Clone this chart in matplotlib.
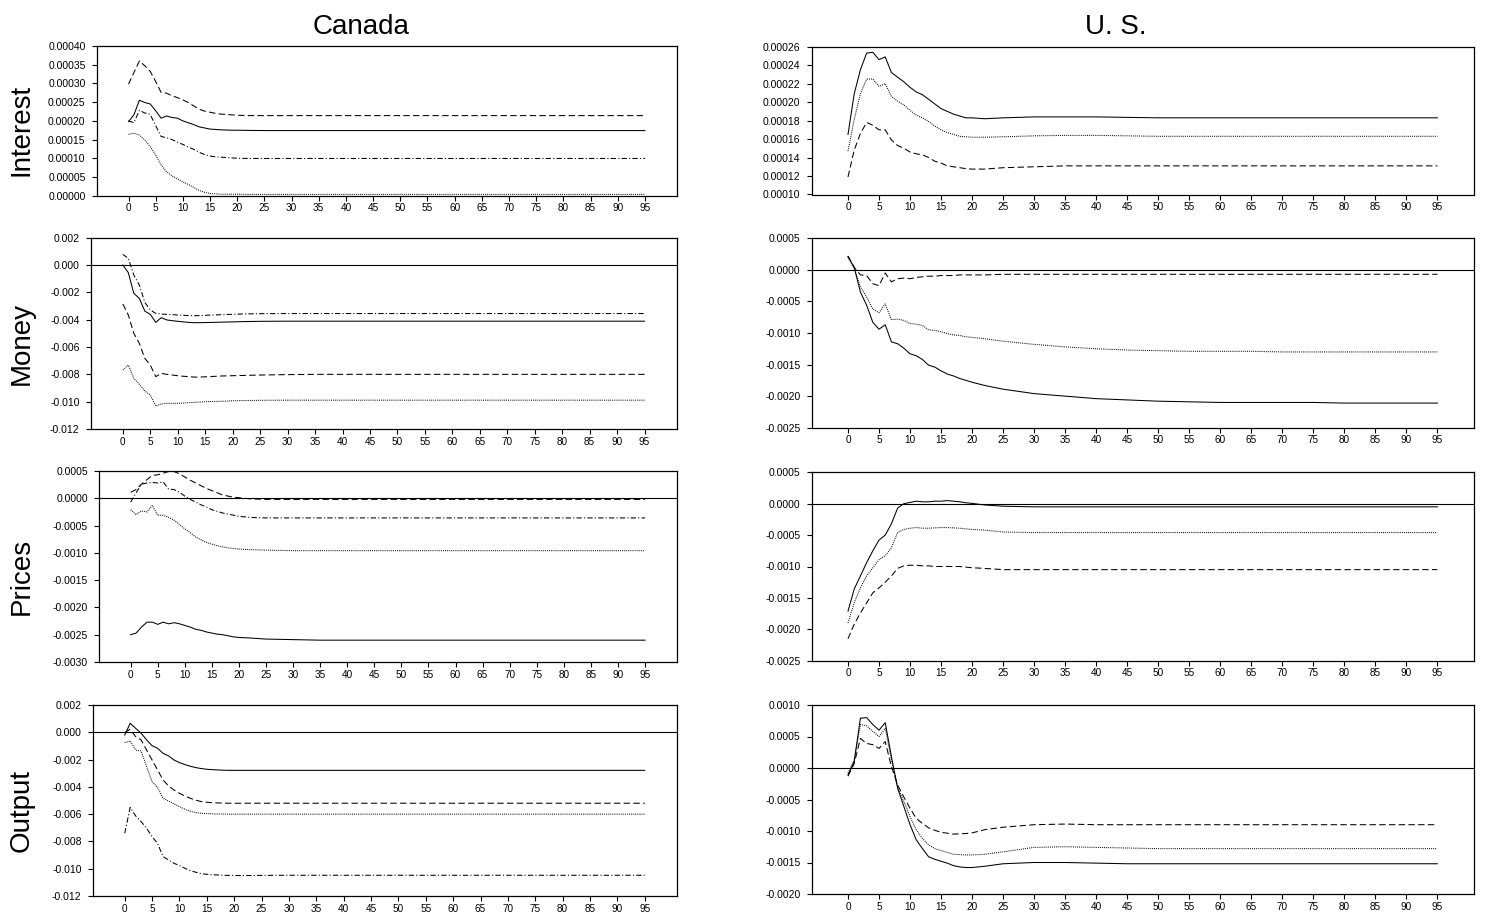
import matplotlib
matplotlib.use('Agg')
import matplotlib.pyplot as plt
from matplotlib.ticker import FixedLocator, FuncFormatter

plt.rcParams['font.family'] = ['Liberation Sans', 'DejaVu Sans']
plt.rcParams['lines.scale_dashes'] = False

W, H = 1485, 918

# horizon values at which the responses were read
X = list(range(0, 21)) + [22, 25, 30, 35, 40, 45, 50, 55, 60, 65, 70, 75, 80, 85, 90, 95]
X_TICKS = list(range(0, 100, 5))

COLUMNS = ["Canada", "U. S."]
ROWS = ["Interest", "Money", "Prices", "Output"]

# ---------------- Canada : Interest (units 1e-4) ----------------
ca_int_solid = [1.98, 2.16, 2.55, 2.49, 2.45, 2.27, 2.07, 2.13, 2.09, 2.07, 2.00, 1.95, 1.90, 1.84, 1.81, 1.78, 1.77, 1.76, 1.755, 1.75, 1.75,
                1.745, 1.74, 1.74, 1.74, 1.74, 1.74, 1.74, 1.74, 1.74, 1.74, 1.74, 1.74, 1.74, 1.74, 1.74, 1.74]
ca_int_dashed = [2.98, 3.29, 3.60, 3.47, 3.32, 3.05, 2.76, 2.74, 2.67, 2.62, 2.56, 2.49, 2.40, 2.31, 2.26, 2.23, 2.20, 2.18, 2.17, 2.16, 2.15,
                 2.14, 2.14, 2.14, 2.14, 2.14, 2.14, 2.14, 2.14, 2.14, 2.14, 2.14, 2.14, 2.14, 2.14, 2.14, 2.14]
ca_int_dashdot = [2.00, 1.95, 2.28, 2.21, 2.17, 1.87, 1.58, 1.55, 1.50, 1.43, 1.37, 1.30, 1.24, 1.16, 1.10, 1.06, 1.04, 1.03, 1.02, 1.01, 1.00,
                  0.995, 0.995, 0.995, 0.995, 0.995, 0.995, 0.995, 0.995, 0.995, 0.995, 0.995, 0.995, 0.995, 0.995, 0.995, 0.995]
ca_int_dotted = [1.64, 1.67, 1.62, 1.49, 1.31, 1.09, 0.82, 0.64, 0.53, 0.45, 0.37, 0.30, 0.22, 0.14, 0.09, 0.06, 0.05, 0.04, 0.04, 0.04, 0.04,
                 0.035, 0.035, 0.035, 0.035, 0.035, 0.035, 0.035, 0.035, 0.035, 0.035, 0.035, 0.035, 0.035, 0.035, 0.035, 0.035]

# ---------------- U.S. : Interest (units 1e-4) ----------------
us_int_solid = [1.65, 2.09, 2.35, 2.53, 2.54, 2.46, 2.49, 2.32, 2.27, 2.22, 2.16, 2.11, 2.08, 2.03, 1.98, 1.93, 1.90, 1.87, 1.85, 1.83, 1.83,
                1.82, 1.83, 1.84, 1.84, 1.84, 1.835, 1.83, 1.83, 1.83, 1.83, 1.83, 1.83, 1.83, 1.83, 1.83, 1.83]
us_int_dotted = [1.47, 1.81, 2.09, 2.25, 2.25, 2.17, 2.20, 2.06, 2.01, 1.97, 1.91, 1.86, 1.83, 1.79, 1.74, 1.70, 1.67, 1.65, 1.63, 1.625, 1.62,
                 1.62, 1.625, 1.635, 1.64, 1.64, 1.635, 1.63, 1.63, 1.63, 1.63, 1.63, 1.63, 1.63, 1.63, 1.63, 1.63]
us_int_dashed = [1.19, 1.48, 1.66, 1.78, 1.75, 1.70, 1.70, 1.59, 1.53, 1.50, 1.46, 1.44, 1.43, 1.40, 1.36, 1.34, 1.31, 1.30, 1.29, 1.28, 1.275,
                 1.275, 1.29, 1.30, 1.31, 1.31, 1.31, 1.31, 1.31, 1.31, 1.31, 1.31, 1.31, 1.31, 1.31, 1.31, 1.31]

# ---------------- Canada : Money (units 1e-3) ----------------
ca_mon_solid = [0.00, -0.56, -2.07, -2.44, -3.37, -3.61, -4.20, -3.85, -4.02, -4.07, -4.12, -4.16, -4.20, -4.22, -4.22, -4.21, -4.20, -4.19, -4.18, -4.17, -4.16,
                -4.14, -4.12, -4.11, -4.11, -4.11, -4.11, -4.11, -4.11, -4.11, -4.11, -4.11, -4.11, -4.11, -4.11, -4.11, -4.11]
ca_mon_dashdot = [0.78, 0.49, -0.73, -1.46, -2.73, -3.29, -3.54, -3.59, -3.61, -3.63, -3.66, -3.68, -3.70, -3.71, -3.70, -3.68, -3.66, -3.65, -3.63, -3.62, -3.61,
                  -3.58, -3.56, -3.55, -3.55, -3.55, -3.55, -3.55, -3.55, -3.55, -3.55, -3.55, -3.55, -3.55, -3.55, -3.55, -3.55]
ca_mon_dashed = [-2.85, -3.66, -5.00, -5.73, -6.83, -7.32, -8.17, -7.93, -8.00, -8.05, -8.10, -8.14, -8.17, -8.20, -8.20, -8.18, -8.16, -8.14, -8.12, -8.11, -8.10,
                 -8.08, -8.05, -8.02, -8.00, -8.00, -8.00, -8.00, -8.00, -8.00, -8.00, -8.00, -8.00, -8.00, -8.00, -8.00, -8.00]
ca_mon_dotted = [-7.68, -7.32, -8.29, -8.73, -9.22, -9.51, -10.32, -10.17, -10.12, -10.12, -10.12, -10.10, -10.07, -10.05, -10.03, -10.00, -9.99, -9.98, -9.97, -9.96, -9.93,
                 -9.92, -9.90, -9.89, -9.89, -9.89, -9.89, -9.89, -9.89, -9.89, -9.89, -9.89, -9.89, -9.89, -9.89, -9.89, -9.89]

# ---------------- U.S. : Money (units 1e-3) ----------------
us_mon_solid = [0.21, 0.04, -0.35, -0.56, -0.83, -0.94, -0.87, -1.14, -1.17, -1.24, -1.33, -1.36, -1.42, -1.51, -1.54, -1.60, -1.65, -1.68, -1.72, -1.75, -1.78,
                -1.83, -1.89, -1.96, -2.00, -2.04, -2.06, -2.08, -2.09, -2.10, -2.10, -2.10, -2.10, -2.11, -2.11, -2.11, -2.11]
us_mon_dotted = [0.20, 0.02, -0.27, -0.43, -0.62, -0.68, -0.54, -0.79, -0.78, -0.80, -0.85, -0.86, -0.88, -0.95, -0.96, -0.98, -1.01, -1.03, -1.04, -1.06, -1.07,
                 -1.09, -1.13, -1.18, -1.22, -1.25, -1.27, -1.28, -1.29, -1.29, -1.29, -1.30, -1.30, -1.30, -1.30, -1.30, -1.30]
us_mon_dashed = [0.22, 0.04, -0.08, -0.09, -0.22, -0.25, -0.05, -0.19, -0.14, -0.13, -0.14, -0.12, -0.11, -0.10, -0.10, -0.09, -0.09, -0.09, -0.08, -0.08, -0.08,
                 -0.08, -0.07, -0.07, -0.07, -0.07, -0.07, -0.07, -0.07, -0.07, -0.07, -0.07, -0.07, -0.07, -0.07, -0.07, -0.07]

# ---------------- Canada : Prices (units 1e-4) ----------------
ca_pri_solid = [-25.0, -24.7, -23.6, -22.7, -22.7, -23.1, -22.7, -23.0, -22.8, -23.0, -23.3, -23.6, -24.0, -24.2, -24.5, -24.7, -24.9, -25.0, -25.2, -25.4, -25.5,
                -25.6, -25.8, -25.9, -26.0, -26.0, -26.0, -26.0, -26.0, -26.0, -26.0, -26.0, -26.0, -26.0, -26.0, -26.0, -26.0]
ca_pri_dashed = [1.1, 1.6, 2.6, 3.4, 4.2, 4.3, 4.6, 4.9, 4.9, 4.5, 3.9, 3.3, 2.8, 2.3, 1.8, 1.4, 1.0, 0.6, 0.4, 0.2, 0.1,
                 -0.1, -0.2, -0.2, -0.2, -0.2, -0.2, -0.2, -0.2, -0.2, -0.2, -0.2, -0.2, -0.2, -0.2, -0.2, -0.2]
ca_pri_dashdot = [-0.7, 1.0, 2.6, 2.8, 2.9, 2.8, 3.0, 1.7, 1.6, 1.1, 0.4, -0.2, -0.7, -1.2, -1.6, -2.1, -2.4, -2.7, -2.9, -3.1, -3.3,
                  -3.5, -3.6, -3.6, -3.6, -3.6, -3.6, -3.6, -3.6, -3.6, -3.6, -3.6, -3.6, -3.6, -3.6, -3.6, -3.6]
ca_pri_dotted = [-2.1, -3.0, -2.3, -2.5, -1.3, -3.1, -3.1, -3.5, -4.0, -4.8, -5.6, -6.3, -7.1, -7.6, -8.1, -8.4, -8.7, -8.9, -9.1, -9.2, -9.3,
                 -9.4, -9.5, -9.6, -9.6, -9.6, -9.6, -9.6, -9.6, -9.6, -9.6, -9.6, -9.6, -9.6, -9.6, -9.6, -9.6]

# ---------------- U.S. : Prices (units 1e-4) ----------------
us_pri_solid = [-17.1, -13.6, -11.5, -9.4, -7.5, -5.8, -5.0, -3.2, -0.7, 0.0, 0.2, 0.4, 0.3, 0.3, 0.4, 0.4, 0.5, 0.4, 0.3, 0.15, 0.05,
                -0.2, -0.4, -0.5, -0.5, -0.5, -0.5, -0.5, -0.5, -0.5, -0.5, -0.5, -0.5, -0.5, -0.5, -0.5, -0.5]
us_pri_dotted = [-19.0, -15.8, -13.4, -11.5, -10.2, -8.9, -8.3, -7.0, -4.6, -4.1, -3.9, -3.8, -3.9, -3.9, -3.85, -3.8, -3.8, -3.85, -3.9, -4.0, -4.1,
                 -4.2, -4.5, -4.6, -4.6, -4.6, -4.6, -4.6, -4.6, -4.6, -4.6, -4.6, -4.6, -4.6, -4.6, -4.6, -4.6]
us_pri_dashed = [-21.5, -19.2, -17.4, -15.8, -14.2, -13.4, -12.5, -11.5, -10.3, -9.9, -9.8, -9.8, -9.9, -9.9, -10.0, -10.0, -10.0, -10.0, -10.0, -10.1, -10.2,
                 -10.3, -10.5, -10.5, -10.5, -10.5, -10.5, -10.5, -10.5, -10.5, -10.5, -10.5, -10.5, -10.5, -10.5, -10.5, -10.5]

# ---------------- Canada : Output (units 1e-3) ----------------
ca_out_solid = [-0.20, 0.66, 0.29, -0.07, -0.56, -0.98, -1.17, -1.54, -1.73, -2.03, -2.22, -2.37, -2.49, -2.59, -2.66, -2.71, -2.74, -2.76, -2.78, -2.79, -2.79,
                -2.79, -2.79, -2.79, -2.79, -2.79, -2.79, -2.79, -2.79, -2.79, -2.79, -2.79, -2.79, -2.79, -2.79, -2.79, -2.79]
ca_out_dashed = [-0.02, 0.22, -0.32, -0.56, -1.30, -2.03, -2.76, -3.49, -3.93, -4.23, -4.47, -4.67, -4.84, -4.98, -5.08, -5.13, -5.16, -5.18, -5.19, -5.20, -5.20,
                 -5.20, -5.20, -5.20, -5.20, -5.20, -5.20, -5.20, -5.20, -5.20, -5.20, -5.20, -5.20, -5.20, -5.20, -5.20, -5.20]
ca_out_dotted = [-0.76, -0.64, -1.30, -1.37, -2.52, -3.62, -4.03, -4.84, -5.03, -5.25, -5.45, -5.64, -5.79, -5.89, -5.94, -5.96, -5.98, -5.99, -5.99, -6.00, -6.00,
                 -6.00, -6.00, -6.00, -6.00, -6.00, -6.00, -6.00, -6.00, -6.00, -6.00, -6.00, -6.00, -6.00, -6.00, -6.00, -6.00]
ca_out_dashdot = [-7.40, -5.50, -6.13, -6.55, -7.04, -7.65, -8.14, -9.11, -9.36, -9.60, -9.77, -9.97, -10.14, -10.26, -10.36, -10.41, -10.44, -10.46, -10.48, -10.49, -10.50,
                  -10.50, -10.49, -10.48, -10.48, -10.48, -10.48, -10.48, -10.48, -10.48, -10.48, -10.48, -10.48, -10.48, -10.48, -10.48, -10.48]

# ---------------- U.S. : Output (units 1e-4) ----------------
us_out_solid = [-1.1, 1.0, 7.9, 8.0, 6.9, 6.0, 7.2, 1.8, -3.2, -6.1, -9.0, -11.4, -12.8, -14.1, -14.5, -14.8, -15.1, -15.5, -15.7, -15.8, -15.8,
                -15.6, -15.2, -15.0, -15.0, -15.1, -15.2, -15.2, -15.2, -15.2, -15.2, -15.2, -15.2, -15.2, -15.2, -15.2, -15.2]
us_out_dotted = [-0.8, 1.3, 6.9, 6.7, 5.8, 5.0, 6.3, 1.3, -3.0, -5.3, -7.7, -9.8, -11.2, -12.2, -12.8, -13.1, -13.4, -13.7, -13.75, -13.8, -13.8,
                 -13.7, -13.3, -12.6, -12.5, -12.6, -12.7, -12.8, -12.8, -12.8, -12.8, -12.8, -12.8, -12.8, -12.8, -12.8, -12.8]
us_out_dashed = [-1.3, 0.7, 4.7, 3.9, 3.7, 3.1, 4.2, 0.2, -2.7, -4.6, -6.4, -8.0, -8.8, -9.5, -9.9, -10.2, -10.35, -10.5, -10.45, -10.4, -10.3,
                 -9.8, -9.4, -9.0, -8.9, -9.0, -9.0, -9.0, -9.0, -9.0, -9.0, -9.0, -9.0, -9.0, -9.0, -9.0, -9.0]

# y tick values and label formats
yt_ca_int = [0.0, 0.00005, 0.00010, 0.00015, 0.00020, 0.00025, 0.00030, 0.00035, 0.00040]
yt_us_int = [0.00010, 0.00012, 0.00014, 0.00016, 0.00018, 0.00020, 0.00022, 0.00024, 0.00026]
yt_ca_mon = [-0.012, -0.010, -0.008, -0.006, -0.004, -0.002, 0.0, 0.002]
yt_us_mon = [-0.0025, -0.0020, -0.0015, -0.0010, -0.0005, 0.0, 0.0005]
yt_ca_pri = [-0.0030, -0.0025, -0.0020, -0.0015, -0.0010, -0.0005, 0.0, 0.0005]
yt_us_pri = [-0.0025, -0.0020, -0.0015, -0.0010, -0.0005, 0.0, 0.0005]
yt_ca_out = [-0.012, -0.010, -0.008, -0.006, -0.004, -0.002, 0.0, 0.002]
yt_us_out = [-0.0020, -0.0015, -0.0010, -0.0005, 0.0, 0.0005, 0.0010]

STYLES = {
    'solid': dict(linestyle='-'),
    'dashed': dict(linestyle=(0, (4.6, 2.4))),
    'dotted': dict(linestyle=(0, (0.7, 0.8))),
    'dashdot': dict(linestyle=(0, (3.8, 1.6, 0.8, 1.6))),
}

panels = [
    # (row, col, series list, scale, yticks, fmt, zero line, box px (l, t, r, b))
    (0, 0, [('solid', ca_int_solid), ('dashed', ca_int_dashed), ('dashdot', ca_int_dashdot), ('dotted', ca_int_dotted)], 1e-4, yt_ca_int, '%.5f', False, (96.7, 46, 677, 195.7)),
    (0, 1, [('solid', us_int_solid), ('dotted', us_int_dotted), ('dashed', us_int_dashed)], 1e-4, yt_us_int, '%.5f', False, (811.7, 46.7, 1474, 194.5)),
    (1, 0, [('solid', ca_mon_solid), ('dashdot', ca_mon_dashdot), ('dashed', ca_mon_dashed), ('dotted', ca_mon_dotted)], 1e-3, yt_ca_mon, '%.3f', True, (90.7, 237.7, 677, 429)),
    (1, 1, [('solid', us_mon_solid), ('dotted', us_mon_dotted), ('dashed', us_mon_dashed)], 1e-3, yt_us_mon, '%.4f', True, (811.7, 238.3, 1474, 427.7)),
    (2, 0, [('solid', ca_pri_solid), ('dashed', ca_pri_dashed), ('dashdot', ca_pri_dashdot), ('dotted', ca_pri_dotted)], 1e-4, yt_ca_pri, '%.4f', True, (99, 471, 677, 662)),
    (2, 1, [('solid', us_pri_solid), ('dotted', us_pri_dotted), ('dashed', us_pri_dashed)], 1e-4, yt_us_pri, '%.4f', True, (811.7, 472.3, 1474, 660.7)),
    (3, 0, [('solid', ca_out_solid), ('dashed', ca_out_dashed), ('dotted', ca_out_dotted), ('dashdot', ca_out_dashdot)], 1e-3, yt_ca_out, '%.3f', True, (92.7, 705, 677, 896)),
    (3, 1, [('solid', us_out_solid), ('dotted', us_out_dotted), ('dashed', us_out_dashed)], 1e-4, yt_us_out, '%.4f', True, (811.7, 705, 1474, 894)),
]

fig = plt.figure(figsize=(W / 100, H / 100), dpi=100)

for row, col, series, scale, yticks, fmt, zero, (l, t, r, b) in panels:
    ax = fig.add_axes([l / W, 1 - b / H, (r - l) / W, (b - t) / H])
    for style, vals in series:
        ax.plot(X, [v * scale for v in vals], color='black', lw=0.75, **STYLES[style])
    if zero:
        ax.axhline(0.0, color='black', lw=0.8)
    ax.set_xlim(-5.85, 100.9)
    ax.set_ylim(yticks[0], yticks[-1])
    ax.xaxis.set_major_locator(FixedLocator(X_TICKS))
    ax.yaxis.set_major_locator(FixedLocator(yticks))
    ax.yaxis.set_major_formatter(FuncFormatter(lambda v, p, f=fmt: f % (0.0 if abs(v) < 1e-12 else v)))
    ax.tick_params(axis='both', direction='out', length=3.5, width=0.8, colors='black')
    ax.tick_params(axis='y', pad=4.5, labelsize=7.5)
    ax.tick_params(axis='x', pad=2, labelsize=7.2)
    for sp in ax.spines.values():
        sp.set_linewidth(0.9)
        sp.set_color('black')

# column titles
fig.text(313 / W, 1 - 34 / H, COLUMNS[0], fontsize=20, ha='left', va='baseline')
fig.text(1085 / W, 1 - 34 / H, COLUMNS[1], fontsize=20, ha='left', va='baseline')

# row labels
for name, yc in zip(ROWS, [130, 344, 576, 810]):
    fig.text(22 / W, 1 - yc / H, name, fontsize=20, rotation=90, ha='center', va='center')

fig.savefig('out.png', dpi=100)
